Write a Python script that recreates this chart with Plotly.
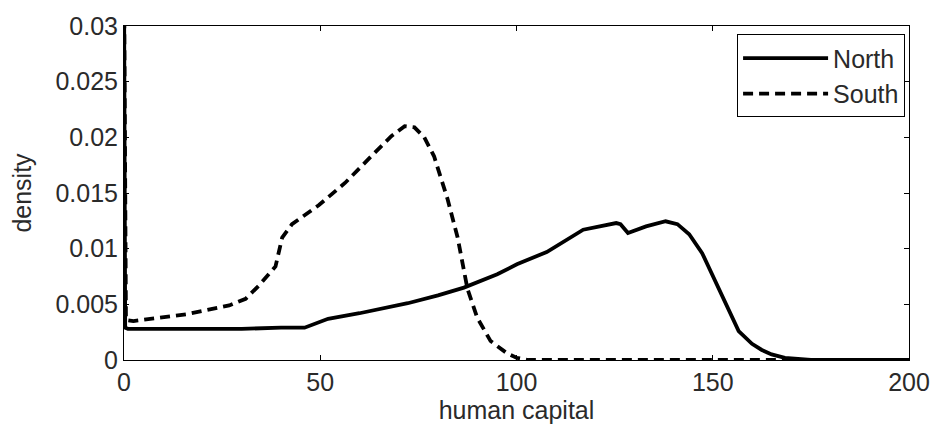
import plotly.graph_objects as go

north_x = [0, 0.3, 1, 10, 20, 30, 40, 46, 52, 60, 72.3, 80, 86.6, 95.1, 100.1, 107.7, 117, 122, 125.4, 126.5, 128.4, 133, 138, 141, 144, 147.3, 150.7, 154, 156.6, 160, 162.5, 165, 168.4, 175, 200]
north_y = [0.035, 0.0029, 0.0028, 0.0028, 0.0028, 0.0028, 0.0029, 0.0029, 0.0037, 0.0042, 0.0051, 0.0058, 0.0065, 0.0077, 0.0086, 0.0097, 0.0117, 0.0121, 0.0123, 0.0122, 0.0114, 0.0120, 0.01246, 0.0122, 0.0113, 0.0096, 0.0070, 0.0046, 0.0026, 0.00145, 0.0009, 0.0005, 0.0002, 0.0, 0.0]

south_x = [0, 0.5, 2.4, 15.8, 26.8, 31, 34.4, 38.6, 40.3, 42.8, 49.6, 56.3, 63, 68.1, 71.5, 74, 76.5, 79, 82.4, 85, 87.5, 90, 93.4, 97.6, 100, 103, 200]
south_y = [0.035, 0.0036, 0.0035, 0.0041, 0.0049, 0.0055, 0.0067, 0.0084, 0.0110, 0.0122, 0.0139, 0.0159, 0.0183, 0.0201, 0.0210, 0.0209, 0.0200, 0.0183, 0.0145, 0.0110, 0.0064, 0.0038, 0.0017, 0.0006, 0.0002, 0.0, 0.0]

x_ticks = [0, 50, 100, 150, 200]
y_ticks = [0, 0.005, 0.01, 0.015, 0.02, 0.025, 0.03]
y_tick_text = ["0", "0.005", "0.01", "0.015", "0.02", "0.025", "0.03"]

FONT = "Liberation Sans, Arial, sans-serif"
TXT = "#2a2a2a"
FS = 25

fig = go.Figure()
fig.add_trace(go.Scatter(x=north_x, y=north_y, mode="lines", name="North",
                         line=dict(color="black", width=3.8)))
fig.add_trace(go.Scatter(x=south_x, y=south_y, mode="lines", name="South",
                         line=dict(color="black", width=3.8, dash="10px,6px")))

axis_common = dict(showline=True, linecolor="black", linewidth=1, mirror="ticks",
                   ticks="inside", ticklen=5, tickcolor="black", showgrid=False,
                   zeroline=False, tickfont=dict(family=FONT, size=FS, color=TXT))

fig.update_layout(
    width=942, height=436,
    margin=dict(l=124, r=27, t=15, b=76),
    paper_bgcolor="white", plot_bgcolor="white",
    font=dict(family=FONT, size=FS, color=TXT),
    showlegend=True,
    legend=dict(x=0.995, y=0.975, xanchor="right", yanchor="top",
                bordercolor="black", borderwidth=1, bgcolor="white",
                font=dict(family=FONT, size=FS, color=TXT),
                itemwidth=85, tracegroupgap=0),
    xaxis=dict(range=[0, 200], tickvals=x_ticks,
               title=dict(text="human capital", standoff=4,
                          font=dict(family=FONT, size=FS, color=TXT)),
               **axis_common),
    yaxis=dict(range=[0, 0.03], tickvals=y_ticks, ticktext=y_tick_text,
               title=dict(text="density", standoff=16,
                          font=dict(family=FONT, size=FS, color=TXT)),
               **axis_common),
)

fig.write_html("out.html")
